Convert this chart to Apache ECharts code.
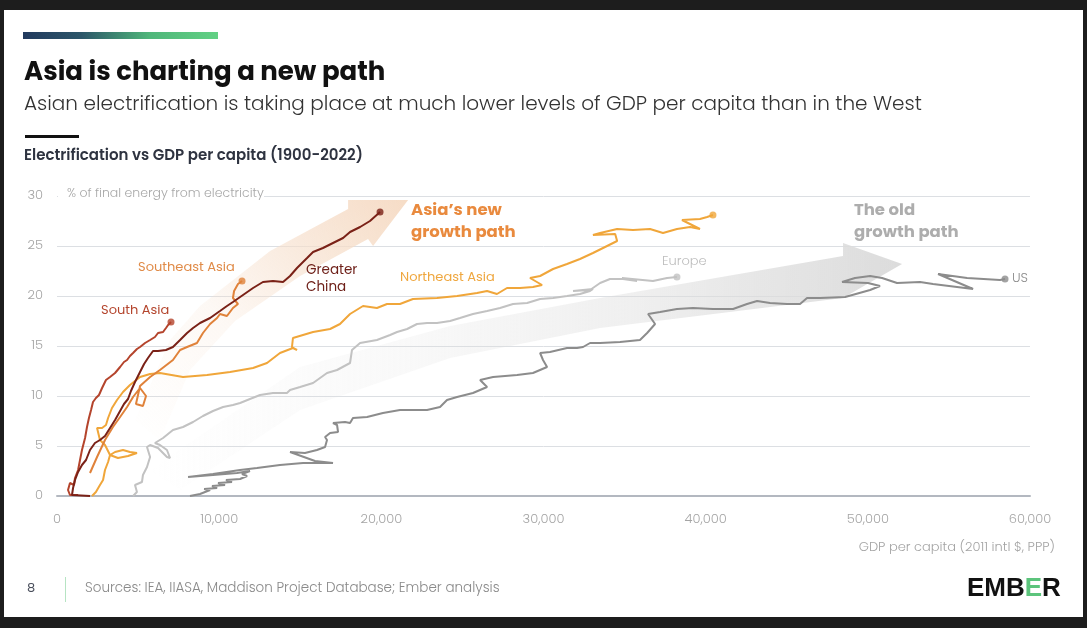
<!DOCTYPE html>
<html>
<head>
<meta charset="utf-8">
<script src="https://cdn.jsdelivr.net/npm/echarts@6/dist/echarts.min.js"></script>
<style>
html,body{margin:0;padding:0;background:#1d1d1d;width:1087px;height:628px;overflow:hidden}
#card{position:absolute;left:4px;top:10px;width:1079px;height:607px;background:#fff}
#chart{position:absolute;left:0;top:0;width:1087px;height:628px}
</style>
</head>
<body>
<div id="card"></div>
<div id="chart"></div>
<script>
// [GDP per capita, % of final energy from electricity]
const southAsia = [[1300,0.1],[800,0.1],[680,0.6],[800,1.3],[1050,1.1],[1110,1.8],[1300,2.6],[1420,3.6],[1540,4.6],[1730,5.8],[1850,6.9],[1970,7.8],[2100,8.6],[2220,9.4],[2400,9.8],[2590,10.1],[2780,10.8],[3020,11.6],[3270,11.9],[3580,12.3],[3890,12.9],[4130,13.4],[4320,13.6],[4500,14.0],[4690,14.3],[4930,14.7],[5120,14.9],[5430,15.3],[5740,15.6],[6040,15.9],[6230,16.3],[6350,16.5],[6540,16.4],[6720,16.8],[6850,17.1],[7030,17.4]];
const greaterChina = [[2035,0],[925,0.1],[990,0.8],[1110,1.6],[1300,2.4],[1540,3.1],[1790,3.6],[2035,4.6],[2340,5.3],[2650,5.6],[2960,6.0],[3270,6.8],[3580,7.6],[3890,8.5],[4130,9.2],[4380,9.7],[4560,10.5],[4810,11.4],[5120,12.4],[5370,13.2],[5610,13.8],[5920,14.5],[6230,14.5],[6720,14.6],[7150,14.9],[7590,15.6],[8020,16.3],[8390,16.8],[8820,17.3],[9440,17.8],[10050,18.5],[10480,19.0],[10850,19.4],[11470,20.1],[12090,20.8],[12700,21.4],[13320,21.5],[13940,21.4],[14370,22.0],[14800,22.8],[15420,23.8],[15790,24.4],[16400,24.8],[17020,25.3],[17640,25.8],[18070,26.4],[18690,26.9],[19300,27.5],[19920,28.4]];
const southeastAsia = [[2035,2.3],[2470,3.9],[2960,5.6],[3450,6.9],[3890,7.9],[4320,8.9],[4690,9.9],[5120,10.8],[5490,10.0],[5300,9.0],[4870,9.2],[5120,11.0],[5740,11.9],[6350,12.6],[7150,13.6],[7590,14.6],[8020,14.9],[8630,15.3],[9000,16.3],[9440,17.2],[9870,17.8],[10050,18.2],[10480,18.0],[10850,18.8],[11160,19.2],[10850,19.8],[10920,20.5],[11160,21.2],[11410,21.5]];
const northeastAsia = [[2160,0],[2400,0.4],[2650,1.1],[2840,1.6],[2960,2.6],[3150,3.4],[3270,4.1],[3580,4.4],[4070,4.6],[4500,4.4],[4930,4.3],[4380,4.0],[3760,3.8],[3270,4.1],[2960,5.1],[2650,5.6],[2470,6.8],[2780,6.8],[3020,7.1],[3150,7.8],[3390,8.8],[3700,9.6],[4070,10.4],[4500,11.1],[5120,11.9],[5740,12.2],[6350,12.3],[7770,11.9],[9250,12.1],[10670,12.4],[12090,12.8],[12950,13.3],[13750,14.3],[14550,14.8],[14800,14.6],[14490,14.9],[14550,15.8],[15790,16.4],[16840,16.7],[17450,17.2],[18070,18.2],[18870,19.0],[19730,18.8],[20350,19.2],[21150,19.2],[21950,19.7],[23430,19.8],[24670,20.0],[25900,20.3],[26520,20.5],[27130,20.2],[27750,20.8],[28550,20.8],[29350,20.9],[29910,21.1],[29170,21.8],[29790,22.0],[30590,22.7],[31450,23.2],[32250,23.7],[33050,24.3],[33920,25.0],[34540,25.5],[34420,26.2],[33050,26.1],[33490,26.3],[34540,26.7],[35520,26.6],[36570,26.7],[37370,26.3],[38230,26.7],[39040,26.9],[39650,26.7],[38540,27.6],[39650,27.7],[40090,27.9],[40450,28.1]];
const europe = [[4690,0],[4930,0.4],[4810,1.1],[5240,1.4],[5300,2.1],[5550,2.9],[5740,3.9],[5550,4.9],[5740,5.1],[6230,4.8],[6780,3.9],[6970,3.8],[6780,4.6],[6350,5.1],[6040,5.3],[6540,5.8],[7150,6.6],[7770,6.9],[8390,7.4],[9000,8.0],[9620,8.5],[10240,8.9],[10850,9.1],[11290,9.3],[11900,9.7],[12520,10.1],[13320,10.3],[14180,10.3],[14370,10.6],[14990,10.9],[15790,11.3],[16650,12.3],[17270,12.6],[18070,13.3],[18190,14.6],[18690,15.3],[19730,15.6],[20540,16.1],[20970,16.4],[21590,16.7],[22200,17.2],[22820,17.3],[23430,17.3],[24240,17.5],[24850,17.8],[25650,18.2],[26520,18.5],[27320,18.8],[28120,19.2],[28990,19.3],[29790,19.7],[30590,19.8],[31450,20.0],[32250,20.2],[32870,20.5],[33050,20.7],[31820,20.5],[32870,20.6],[33490,21.3],[34100,21.7],[34900,21.7],[35770,21.5],[34840,21.8],[36750,21.5],[37620,21.8],[38230,21.9]];
const us = [[8200,0],[8820,0.2],[9440,0.6],[9070,0.7],[9870,0.8],[9560,1.0],[10360,1.1],[9930,1.3],[10790,1.4],[10420,1.6],[11290,1.7],[11720,2.0],[11410,2.2],[11900,2.5],[11100,2.3],[9620,2.1],[8080,1.9],[9620,2.2],[11290,2.6],[12330,2.8],[13750,3.1],[15170,3.3],[17020,3.3],[15910,3.5],[14370,4.4],[15290,4.3],[16030,4.6],[16530,4.9],[16650,5.6],[16530,5.9],[16840,6.3],[17330,6.4],[17270,7.1],[17020,7.3],[17760,7.4],[18070,7.3],[18250,7.8],[19120,7.9],[20100,8.3],[21150,8.6],[22820,8.6],[23620,8.9],[24050,9.6],[24670,9.9],[25650,10.3],[26520,10.9],[26090,11.6],[26890,11.9],[28370,12.1],[29350,12.3],[30220,12.9],[29970,13.6],[29790,14.3],[30400,14.4],[31450,14.8],[32070,14.8],[32440,14.9],[32870,15.3],[33490,15.3],[34720,15.4],[35950,15.6],[36390,16.3],[36880,17.2],[36450,18.2],[37190,18.4],[38230,18.7],[39220,18.8],[40450,18.7],[41690,18.7],[42550,19.2],[43170,19.5],[43970,19.3],[45020,19.2],[45820,19.2],[46250,19.8],[47050,19.8],[48600,19.9],[50140,20.6],[50750,21.0],[50010,21.3],[48410,21.4],[49210,21.8],[50140,22.0],[50880,21.8],[51800,21.3],[53220,21.4],[54020,21.2],[56490,20.7],[54330,22.2],[56120,21.8],[58150,21.6],[58460,21.7]];

// background arrows, outline in data units
const asiaArrow = [[4810,7.6],[6970,15.6],[8820,19.0],[13140,24.5],[17950,28.7],[17950,29.6],[21650,29.6],[19490,25.0],[19180,25.7],[14990,22.0],[10980,17.5],[8200,12.6],[6350,5.6]];
const oldArrow = [[5740,2.6],[14990,12.9],[24240,17.0],[33490,19.8],[48470,24.0],[48470,25.3],[52110,23.2],[48470,19.8],[33490,16.8],[24240,13.8],[14990,8.6],[7590,0.6]];

const xMax = 60000, xStep = 10000, yMax = 30, yStep = 5;

const FONT = '"Poppins", "Open Sans", sans-serif';

let chart = echarts.init(document.getElementById('chart'), null, {renderer: 'canvas'});

function arrow(pts, grad) {
    return {
        type: 'custom', silent: true, z: 1,
        data: [[0, 0]],
        renderItem: function (params, api) {
            return {
                type: 'polygon',
                shape: {points: pts.map(function (p) { return api.coord(p); })},
                style: {fill: grad}
            };
        }
    };
}
function line(name, data, color) {
    return {name: name, type: 'line', data: data, symbol: 'none', silent: true, z: 3,
        lineStyle: {color: color, width: 2}};
}
function txt(x, y, text, font, fill, align) {
    return {type: 'text', x: x, y: y, z: 20, silent: true,
        style: {text: text, font: font, fill: fill, align: align || 'left', textAlign: align || 'left',
            verticalAlign: 'middle', textVerticalAlign: 'middle'}};
}

let seriesList = [
    {name: 'US', data: us, color: '#8c8c8c'},
    {name: 'Europe', data: europe, color: '#c2c2c2'},
    {name: 'Northeast Asia', data: northeastAsia, color: '#f0a63a'},
    {name: 'Southeast Asia', data: southeastAsia, color: '#e0823a'},
    {name: 'South Asia', data: southAsia, color: '#b4442c'},
    {name: 'Greater China', data: greaterChina, color: '#7a2117'}
];

let series = [
    arrow(oldArrow, new echarts.graphic.LinearGradient(0, 0, 1, 0, [
        {offset: 0, color: 'rgba(220,220,220,0)'},
        {offset: 0.35, color: 'rgba(220,220,220,0.18)'},
        {offset: 0.65, color: 'rgba(220,220,220,0.45)'},
        {offset: 1, color: 'rgba(220,220,220,1)'}
    ])),
    arrow(asiaArrow, new echarts.graphic.LinearGradient(0, 1, 1, 0, [
        {offset: 0, color: 'rgba(246,222,202,0)'},
        {offset: 0.4, color: 'rgba(246,222,202,0.2)'},
        {offset: 0.7, color: 'rgba(246,222,202,0.65)'},
        {offset: 1, color: 'rgba(246,220,198,1)'}
    ]))
];
seriesList.forEach(function (s) { series.push(line(s.name, s.data, s.color)); });
series.push({
    type: 'scatter', silent: true, z: 4, symbolSize: 7,
    data: seriesList.map(function (s) {
        return {value: s.data[s.data.length - 1], itemStyle: {color: s.color}};
    })
});

option = {
    animation: false,
    grid: {left: 57, right: 57, top: 196, bottom: 132},
    xAxis: {
        type: 'value', min: 0, max: xMax, interval: xStep,
        axisLine: {show: true, lineStyle: {color: '#b3b8c0', width: 2}},
        axisTick: {show: false},
        splitLine: {show: false},
        axisLabel: {margin: 17, color: '#a4a4a4', fontSize: 13, fontWeight: 300, fontFamily: FONT,
            formatter: function (v) { return v.toLocaleString('en-US'); }}
    },
    yAxis: {
        type: 'value', min: 0, max: yMax, interval: yStep,
        axisLine: {show: false},
        axisTick: {show: false},
        splitLine: {lineStyle: {color: '#dcdfe3', width: 1}},
        axisLabel: {margin: 14, color: '#a4a4a4', fontSize: 13, fontWeight: 300, fontFamily: FONT}
    },
    graphic: [
        {type: 'rect', z: 20, silent: true, shape: {x: 23, y: 32, width: 195, height: 7},
            style: {fill: new echarts.graphic.LinearGradient(0, 0, 1, 0, [
                {offset: 0, color: '#223a5e'},
                {offset: 0.3, color: '#2c5669'},
                {offset: 0.65, color: '#4fb67a'},
                {offset: 1, color: '#62d184'}
            ])}},
        txt(24, 73, 'Asia is charting a new path', '700 26px ' + FONT, '#111'),
        txt(24, 105, 'Asian electrification is taking place at much lower levels of GDP per capita than in the West', '300 20px ' + FONT, '#333'),
        {type: 'rect', z: 20, silent: true, shape: {x: 25, y: 135, width: 54, height: 3}, style: {fill: '#111'}},
        txt(24, 156, 'Electrification vs GDP per capita (1900-2022)', '600 15px ' + FONT, '#2e3340'),
        {type: 'rect', z: 19, silent: true, shape: {x: 58, y: 190, width: 206, height: 12}, style: {fill: '#fff'}},
        txt(67, 194, '% of final energy from electricity', '300 12.5px ' + FONT, '#a8a8a8'),
        txt(101, 311, 'South Asia', '400 13px ' + FONT, '#b4452d'),
        txt(138, 268, 'Southeast Asia', '400 13px ' + FONT, '#e08b48'),
        txt(306, 271, 'Greater', '400 13.5px ' + FONT, '#6e2019'),
        txt(306, 288, 'China', '400 13.5px ' + FONT, '#6e2019'),
        txt(411, 211, 'Asia\u2019s new', '700 16.5px ' + FONT, '#e98a3e'),
        txt(411, 233, 'growth path', '700 16.5px ' + FONT, '#e98a3e'),
        txt(400, 278, 'Northeast Asia', '400 13px ' + FONT, '#efa73f'),
        txt(662, 262, 'Europe', '300 13px ' + FONT, '#bdbdbd'),
        txt(854, 211, 'The old', '700 16.5px ' + FONT, '#adadad'),
        txt(854, 233, 'growth path', '700 16.5px ' + FONT, '#adadad'),
        txt(1012, 279, 'US', '300 13px ' + FONT, '#8c8c8c'),
        txt(1055, 548, 'GDP per capita (2011 intl $, PPP)', '300 13px ' + FONT, '#a4a4a4', 'right'),
        txt(27, 589, '8', '400 13px ' + FONT, '#4a4f5c'),
        {type: 'rect', z: 20, silent: true, shape: {x: 65, y: 577, width: 1, height: 25}, style: {fill: '#b6e4c3'}},
        txt(85, 589, 'Sources: IEA, IIASA, Maddison Project Database; Ember analysis', '300 13.5px ' + FONT, '#8a8a8a'),
        {type: 'text', x: 967, y: 589, z: 20, silent: true,
            style: {text: '{a|EMB}{g|E}{a|R}', verticalAlign: 'middle', textVerticalAlign: 'middle',
                rich: {
                    a: {fill: '#111', color: '#111', font: '900 26px "Liberation Sans", sans-serif'},
                    g: {fill: '#5cc47c', color: '#5cc47c', font: '900 26px "Liberation Sans", sans-serif'}
                }}}
    ],
    series: series
};

chart.setOption(option);
</script>
</body>
</html>
